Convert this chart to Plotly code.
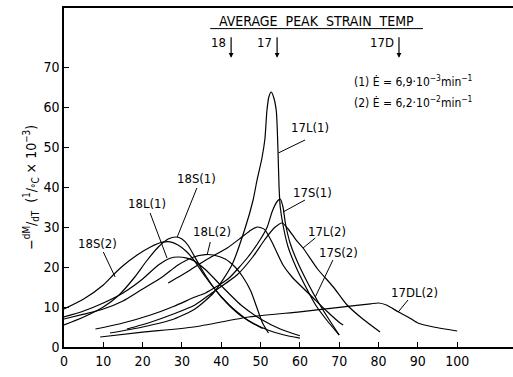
import plotly.graph_objects as go

# ---- data ----
x_18S2 = [0, 5, 10, 12.5, 15, 18.6, 22, 25, 27, 29, 31, 33, 36, 40, 45, 50.5]
y_18S2 = [9.5, 12, 15.5, 18, 20.3, 23, 25, 26.2, 26.3, 25.5, 24, 21.8, 17.5, 12.5, 7.8, 4.6]

x_18S1 = [0, 5, 10, 14, 18, 21, 24, 26.5, 28.5, 30, 31.5, 33, 35, 38, 42, 47, 52, 56, 60]
y_18S1 = [5.5, 7.5, 10, 13, 17.5, 21.5, 25, 27, 27.5, 27, 25.5, 23, 19.5, 15, 10.5, 6.5, 4.2, 3, 2.2]

x_18L1 = [0, 5, 10, 15, 20, 24, 27, 29, 31, 33, 36, 40, 45, 50, 55, 60]
y_18L1 = [7.5, 9, 11, 13.5, 17, 20.5, 22.2, 22.5, 22.3, 21.6, 19.3, 15.3, 10.5, 7, 4.5, 2.8]

x_18L2 = [0, 5, 10, 15, 20, 25, 29, 33, 36, 38, 41, 43.5, 45.5, 47.5, 49, 50.5, 52]
y_18L2 = [7, 8.2, 9.5, 11.5, 14.5, 17.5, 20.5, 22.5, 23.1, 23, 22, 20, 17.5, 14, 10, 6, 3.5]

x_17L1 = [11.7, 20, 28, 33.3, 38, 42.7, 46, 48.1, 49.1, 50.3, 51.1, 51.6, 52.1, 52.7, 53.3, 54, 54.4, 54.7, 55, 55.8, 57, 59, 61.5, 64, 67, 70]
y_17L1 = [3.5, 5, 7, 9.5, 13.5, 20.5, 29.5, 36.75, 41.75, 47, 52, 59, 62.5, 63.75, 62.5, 59, 50, 40, 35, 30, 25, 20, 15, 10.5, 6.5, 3]

x_17S1 = [8, 15, 22, 28, 33.3, 36, 41.7, 46.8, 50, 51.7, 53, 54.3, 55, 55.7, 56.3, 57.5, 59.5, 62, 64.5, 67, 70]
y_17S1 = [4.5, 6, 8, 10.2, 12.5, 13.5, 17, 22.5, 27, 30, 34, 36.5, 37, 35, 31, 26, 21, 16, 11.5, 7.5, 3]

x_17L2 = [16, 22, 28, 33.3, 37.6, 44, 48, 51, 53.5, 55.5, 57, 59, 60.8, 64.5, 68.5, 72, 76, 80.4]
y_17L2 = [4.5, 6.2, 8.3, 10.5, 13.5, 18, 22.5, 26.75, 29.8, 31, 29.5, 26.8, 24.75, 19.5, 15, 10.5, 7, 3.75]

x_17S2 = [26.5, 32, 36, 41.5, 45, 47.5, 49.2, 51, 53, 55.7, 58, 63.4, 67, 70.2, 71]
y_17S2 = [16, 19.2, 21.7, 24.75, 27.3, 29.2, 30, 29.4, 26, 20.5, 17.5, 12.25, 8.8, 6, 5.5]

x_17DL2 = [9.2, 20, 33, 47, 60, 70, 78, 80, 82, 85, 88, 90, 94, 100]
y_17DL2 = [2.5, 3.7, 5, 7.5, 8.8, 9.9, 10.8, 11, 10.5, 8.8, 7.2, 6, 5, 4]

curves = [
    ("18S(2)", x_18S2, y_18S2), ("18S(1)", x_18S1, y_18S1),
    ("18L(1)", x_18L1, y_18L1), ("18L(2)", x_18L2, y_18L2),
    ("17L(1)", x_17L1, y_17L1), ("17S(1)", x_17S1, y_17S1),
    ("17L(2)", x_17L2, y_17L2), ("17S(2)", x_17S2, y_17S2),
    ("17DL(2)", x_17DL2, y_17DL2),
]

# label name, text position (x, y), leader from, leader to
labels = ["18S(2)", "18L(1)", "18S(1)", "18L(2)", "17L(1)", "17S(1)", "17L(2)", "17S(2)", "17DL(2)"]
label_pos = [(8.5, 26), (21.2, 36), (33.6, 42.2), (37.7, 28.9), (62.6, 54.9),
             (63.3, 38.6), (67, 28.9), (69.8, 23.6), (89.2, 13.6)]
leader_from = [(10, 23.75), (21.9, 33.5), (33.8, 39.75), (37.2, 26.25), (61.3, 51.75),
               (61.3, 36.75), (63.9, 27.25), (68.4, 21.75), (87.5, 11.75)]
leader_to = [(13, 17.5), (26.2, 22.25), (28.8, 27.5), (36.4, 23), (54.5, 48.5),
             (55.7, 33.75), (60.8, 24.75), (63.9, 12.5), (85, 8.75)]

peak_names = ["18", "17", "17D"]
peak_temps = [42.5, 54.2, 85.2]

x_ticks = [0, 10, 20, 30, 40, 50, 60, 70, 80, 90, 100]
y_ticks = [0, 10, 20, 30, 40, 50, 60, 70]

FONT = "DejaVu Sans Condensed, Liberation Sans Narrow, Arial Narrow, sans-serif"
NB = "\u00a0"

fig = go.Figure()
for name, xs, ys in curves:
    fig.add_trace(go.Scatter(x=xs, y=ys, mode="lines", name=name,
                             line=dict(color="black", width=1.2, shape="spline", smoothing=0.6),
                             showlegend=False, hoverinfo="skip"))

shapes = []
for (x0, y0), (x1, y1) in zip(leader_from, leader_to):
    shapes.append(dict(type="line", x0=x0, y0=y0, x1=x1, y1=y1,
                       line=dict(color="black", width=1)))
# underline of header
shapes.append(dict(type="line", x0=37.2, x1=91.3, y0=79.6, y1=79.6,
                   line=dict(color="black", width=1)))

ann = []
for name, (tx, ty) in zip(labels, label_pos):
    ann.append(dict(x=tx, y=ty, text=name, showarrow=False,
                    font=dict(family=FONT, size=13, color="black")))

header = (NB * 2).join(["AVERAGE", "PEAK", "STRAIN", "TEMP"])
ann.append(dict(x=64.1, y=81.6, text=header, showarrow=False,
                font=dict(family=FONT, size=14, color="black")))
for nm, t in zip(peak_names, peak_temps):
    ann.append(dict(x=t, y=72.3, ax=0, ay=-22, text="", showarrow=True,
                    arrowhead=2, arrowsize=0.8, arrowwidth=1.2, arrowcolor="black"))
    ann.append(dict(x=t - 0.8, y=76.2, text=nm, showarrow=False, xanchor="right",
                    font=dict(family=FONT, size=13, color="black")))

ann.append(dict(x=73.3, y=66.4, xanchor="left",
                text="(1) Ė = 6,9·10<sup>−3</sup>min<sup>−1</sup>", showarrow=False,
                font=dict(family=FONT, size=12, color="black")))
ann.append(dict(x=73.3, y=61.2, xanchor="left",
                text="(2) Ė = 6,2·10<sup>−2</sup>min<sup>−1</sup>", showarrow=False,
                font=dict(family=FONT, size=12, color="black")))

ann.append(dict(x=52.6, y=-6.8, text="T (°C)", showarrow=False, yanchor="middle",
                font=dict(family=FONT, size=14, color="black")))
ann.append(dict(xref="paper", yref="paper", x=-0.1, y=0.47, textangle=-90,
                text="−<sup>dM</sup>/<sub>dT</sub>  (<sup>1</sup>/<sub>°C</sub> × 10<sup>−3</sup>)",
                showarrow=False, font=dict(family=FONT, size=14, color="black")))

fig.update_layout(
    width=513, height=377,
    margin=dict(l=64, r=0, t=8, b=30),
    paper_bgcolor="white", plot_bgcolor="white",
    shapes=shapes, annotations=ann,
    xaxis=dict(range=[0, 114.2], tickvals=x_ticks, ticks="inside", ticklen=5,
               tickcolor="black", tickwidth=1.2, showline=True, linecolor="black",
               linewidth=1.5, mirror=True, showgrid=False, zeroline=False,
               tickfont=dict(family=FONT, size=14, color="black")),
    yaxis=dict(range=[0, 84.75], tickvals=y_ticks, ticks="inside", ticklen=5,
               tickcolor="black", tickwidth=1.2, showline=True, linecolor="black",
               linewidth=1.5, showgrid=False, zeroline=False,
               tickfont=dict(family=FONT, size=14, color="black")),
)
fig.write_html("out.html")
